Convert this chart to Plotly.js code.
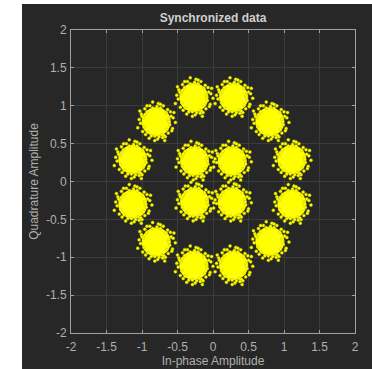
<!DOCTYPE html>
<html><head><meta charset="utf-8">
<script src="https://cdn.plot.ly/plotly-3.0.1.min.js"></script>
<style>html,body{margin:0;padding:0;background:#fff;}#c{width:372px;height:369px;}</style>
</head><body><div id="c"></div>
<script>
// Cluster centres (16-APSK constellation)
const centerI = [0.27, -0.26, -0.26, 0.27, 1.11, 0.80, 0.29, -0.27, -0.80, -1.13, -1.13, -0.80, -0.27, 0.29, 0.80, 1.11];
const centerQ = [0.27, 0.27, -0.27, -0.27, 0.29, 0.79, 1.11, 1.11, 0.79, 0.29, -0.30, -0.80, -1.11, -1.11, -0.79, -0.30];
// Scatter of the noisy edge around each centre (hand-estimated offsets)
const offI = [0.17,0.14,0.06,-0.05,-0.13,-0.18,-0.17,-0.12,-0.02,0.08,0.15,0.19,0.21,0.10,-0.09,-0.21,-0.22,-0.15,0.02,0.17,0.23,0.25,-0.05,-0.26,0.12,0.16,-0.16,-0.19,0.09,0.20,-0.23,0.03,0.22,-0.13,0.27,-0.02,0.13,-0.24,0.06,-0.10,0.18,-0.07,0.01,-0.20,0.24,0.11,-0.16,0.04];
const offQ = [0.03,0.12,0.18,0.18,0.13,0.05,-0.07,-0.14,-0.19,-0.17,-0.10,-0.04,0.07,0.21,0.21,0.10,-0.02,-0.17,-0.23,-0.15,-0.09,0.12,0.26,-0.08,-0.25,0.16,0.17,-0.13,-0.21,0.13,0.14,0.24,-0.12,0.21,-0.01,-0.25,-0.20,0.03,0.23,-0.22,0.00,-0.19,0.20,0.07,0.05,-0.18,0.09,-0.20];
const xTicks = [-2,-1.5,-1,-0.5,0,0.5,1,1.5,2];
const yTicks = [-2,-1.5,-1,-0.5,0,0.5,1,1.5,2];

const px = [], py = [];
for (let c = 0; c < centerI.length; c++) {
  for (let k = 0; k < offI.length; k++) { px.push(centerI[c] + offI[k]); py.push(centerQ[c] + offQ[k]); }
}
const L = 71, R = 17, T = 30, B = 36, W = 372, H = 369;
const pw = W - L - R, ph = H - T - B;
const FONT = 'Liberation Sans, Arial, sans-serif';
const traces = [
  {x: centerI, y: centerQ, type: 'scatter', mode: 'markers', hoverinfo: 'none',
   marker: {color: '#ffff00', size: 29, line: {width: 0}}},
  {x: px, y: py, type: 'scatter', mode: 'markers', hoverinfo: 'none',
   marker: {color: '#ffff00', size: 3, line: {width: 0.5, color: '#c9c900'}}}
];
const axisBase = {range: [-2, 2], showgrid: true, gridcolor: '#3c3c3c', gridwidth: 1, zeroline: false,
  showline: true, linecolor: '#a0a0a0', linewidth: 1, mirror: 'ticks', ticks: 'inside', ticklen: 3,
  tickcolor: '#a0a0a0', tickfont: {family: FONT, size: 12, color: '#b0b0b0'}};
const layout = {
  width: W, height: H, margin: {l: L, r: R, t: T, b: B},
  paper_bgcolor: '#ffffff', plot_bgcolor: '#000000', showlegend: false,
  title: {text: '<b>Synchronized data</b>', x: (L + pw / 2) / W, xanchor: 'center', y: 1 - 18 / H, yanchor: 'middle',
    font: {family: FONT, size: 12, color: '#d0d0d0'}},
  xaxis: Object.assign({}, axisBase, {tickvals: xTicks, ticktext: xTicks.map(String), ticklabelstandoff: 3,
    title: {text: 'In-phase Amplitude', standoff: 3, font: {family: FONT, size: 12, color: '#b0b0b0'}}}),
  yaxis: Object.assign({}, axisBase, {tickvals: yTicks, ticktext: yTicks.map(String), ticklabelstandoff: 1,
    title: {text: 'Quadrature Amplitude', standoff: 4, font: {family: FONT, size: 12, color: '#b0b0b0'}}}),
  shapes: [{type: 'rect', xref: 'paper', yref: 'paper', layer: 'below',
    x0: (22 - L) / pw, x1: (W + 2 - L) / pw, y0: (H - B - 371) / ph, y1: (H - B - 4) / ph,
    fillcolor: '#272727', line: {width: 0}}]
};
Plotly.newPlot('c', traces, layout, {displayModeBar: false, staticPlot: true});
</script></body></html>
